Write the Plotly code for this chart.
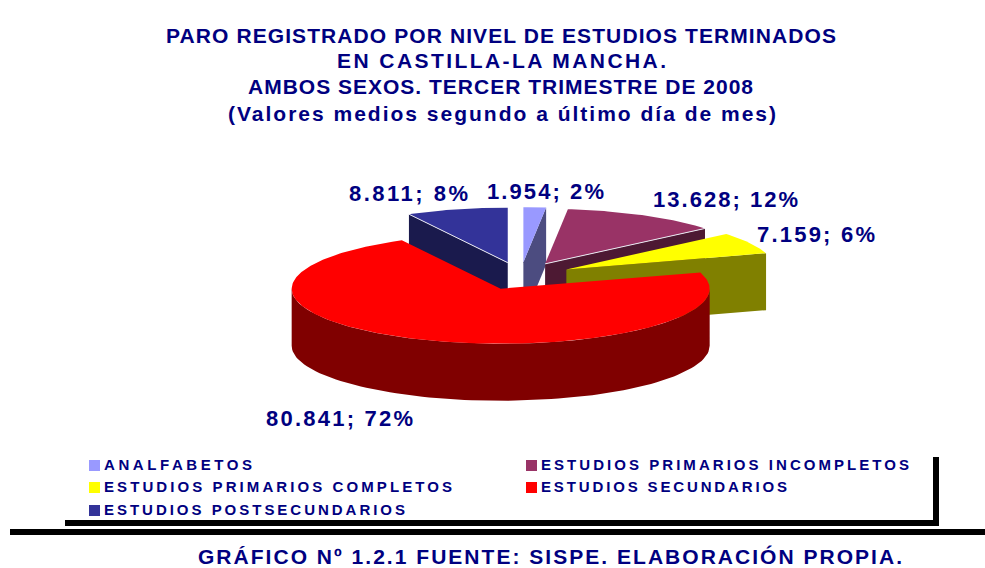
import json
import math
import plotly.graph_objects as go

# ---- data ----
categories = ["ANALFABETOS", "ESTUDIOS PRIMARIOS INCOMPLETOS", "ESTUDIOS PRIMARIOS COMPLETOS",
              "ESTUDIOS SECUNDARIOS", "ESTUDIOS POSTSECUNDARIOS"]
values = [1954, 13628, 7159, 80841, 8811]
value_labels = ["1.954; 2%", "13.628; 12%", "7.159; 6%", "80.841; 72%", "8.811; 8%"]
title_lines = ["PARO REGISTRADO POR NIVEL DE ESTUDIOS TERMINADOS", "EN CASTILLA-LA MANCHA.",
               "AMBOS SEXOS. TERCER TRIMESTRE DE 2008", "(Valores medios segundo a último día de mes)"]
footer = "GRÁFICO Nº 1.2.1 FUENTE: SISPE. ELABORACIÓN PROPIA."

# ---- style ----
top_colors = ["#9999FF", "#993366", "#FFFF00", "#FF0000", "#333399"]
wall_colors = ["#4C4C80", "#4D1933", "#808000", "#800000", "#1A1A4D"]
edge_line = [False, True, False, False, True]
NAVY = "#000080"
FONT = "Liberation Sans"
CX, CY, RX, RY, DEPTH, PULL = 520.5, 276.0, 209.0, 55.0, 57.0, 0.25
draw_order = [4, 0, 1, 2, 3]
title_pos = [(166, 35, 670), (337, 60, 329), (248, 86, 505), (228, 113, 548)]
label_pos = [(487, 191, 117), (653, 199, 145), (757, 234, 118), (266, 418, 147), (349, 193, 119)]
legend_pos = [(89, 464.5, 148), (526, 464.5, 368), (89, 486.5, 348), (526, 486.5, 246), (89, 509.5, 301)]

total = sum(values)
fig = go.Figure()


def rim(angle, ox, oy, dy=0.0):
    a = math.radians(angle)
    return ox + RX * math.sin(a), oy - RY * math.cos(a) + dy


def poly(xs, ys, color):
    fig.add_trace(go.Scatter(x=xs, y=ys, mode="lines", fill="toself", fillcolor=color,
                             line=dict(width=0, color=color), hoverinfo="skip", showlegend=False))


# slice angles derive from the values
bounds = []
run = 0.0
for v in values:
    bounds.append((run, run + v / total * 360))
    run += v / total * 360

for i in draw_order:
    a0, a1 = bounds[i]
    mid = math.radians((a0 + a1) / 2)
    ox = CX + PULL * RX * math.sin(mid)
    oy = CY - PULL * RY * math.cos(mid)
    # cut faces that look towards the viewer
    for edge in (a0, a1):
        show = (edge == a1 and 0 < a1 < 180) or (edge == a0 and 180 < a0 < 360)
        if show:
            px, py = rim(edge, ox, oy)
            poly([ox, px, px, ox, ox], [oy, py, py + DEPTH, oy + DEPTH, oy], wall_colors[i])
    # outer wall: only the part in the front half
    lo, hi = max(a0, 90), min(a1, 270)
    if hi > lo:
        n = 90
        angs = [lo + (hi - lo) * k / n for k in range(n + 1)]
        up = [rim(t, ox, oy) for t in angs]
        down = [rim(t, ox, oy, DEPTH) for t in reversed(angs)]
        pts = up + down + up[:1]
        poly([p[0] for p in pts], [p[1] for p in pts], wall_colors[i])
    # top face
    n = max(6, int((a1 - a0)))
    pts = [(ox, oy)] + [rim(a0 + (a1 - a0) * k / n, ox, oy) for k in range(n + 1)] + [(ox, oy)]
    poly([p[0] for p in pts], [p[1] for p in pts], top_colors[i])
    if edge_line[i]:
        e = a0 if a0 > 180 else a1
        px, py = rim(e, ox, oy)
        fig.add_trace(go.Scatter(x=[ox, px], y=[oy, py], mode="lines", hoverinfo="skip", showlegend=False,
                                 line=dict(width=1, color="#E8E8F0")))

targets = {}
annotations = []


def add_text(text, x, y, size, width):
    targets[text] = width
    annotations.append(dict(text=text, x=x, y=y, xref="x", yref="y", xanchor="left", yanchor="middle",
                            align="left", showarrow=False, borderpad=0, borderwidth=0,
                            font=dict(family=FONT, size=size, color=NAVY, weight="bold")))


for line, (x, y, w) in zip(title_lines, title_pos):
    add_text(line, x, y, 21, w)
for lab, (x, y, w) in zip(value_labels, label_pos):
    add_text(lab, x, y, 22, w)
add_text(footer, 198, 556, 21, 704)

for i, (cat, (x, y, w)) in enumerate(zip(categories, legend_pos)):
    fig.add_trace(go.Scatter(x=[x + 5.5], y=[y + 1], mode="markers", hoverinfo="skip", showlegend=False,
                             marker=dict(symbol="square", size=11, color=top_colors[i], line=dict(width=0))))
    add_text(cat, x + 15, y, 15, w)

shapes = [
    dict(type="rect", x0=933, x1=939, y0=457, y1=526, fillcolor="black", line_width=0, xref="x", yref="y"),
    dict(type="rect", x0=65, x1=939, y0=520, y1=526, fillcolor="black", line_width=0, xref="x", yref="y"),
    dict(type="rect", x0=10, x1=985, y0=529, y1=535, fillcolor="black", line_width=0, xref="x", yref="y"),
]

fig.update_layout(
    width=985, height=568, margin=dict(l=0, r=0, t=0, b=0),
    paper_bgcolor="white", plot_bgcolor="white", showlegend=False,
    xaxis=dict(range=[0, 985], visible=False, fixedrange=True),
    yaxis=dict(range=[568, 0], visible=False, fixedrange=True),
    annotations=annotations, shapes=shapes,
)

post = """
document.documentElement.style.margin = '0';
document.documentElement.style.overflow = 'hidden';
document.body.style.margin = '0';
var targets = %s;
document.querySelectorAll('.annotation-text').forEach(function (t) {
  var s = t.textContent;
  if (targets[s] === undefined) return;
  t.style.letterSpacing = '0px';
  var len = t.getComputedTextLength();
  t.style.letterSpacing = ((targets[s] - len) / (s.length - 1)).toFixed(3) + 'px';
});
""" % json.dumps(targets, ensure_ascii=False)

fig.write_html("out.html", post_script=post, config=dict(displayModeBar=False))
